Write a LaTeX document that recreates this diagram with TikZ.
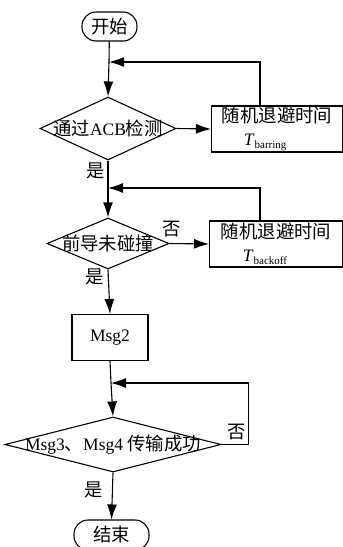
\documentclass[tikz,border=0pt]{standalone}
\usepackage{fontspec}
\setmainfont{Liberation Serif}
\newfontfamily\cjk[Scale=1.05]{Noto Sans CJK SC}
\usetikzlibrary{arrows.meta,shapes.geometric}

\newcommand\Tsub[1]{\textit{T}\raisebox{-0.4ex}{\fontsize{11}{11}\selectfont #1}}

\begin{document}
\begin{tikzpicture}[>={Latex[length=15pt,width=10pt]},x=1pt,y=-1pt,line width=1.1pt,
  font=\fontsize{17.5}{23}\selectfont,
  endbox/.style={draw,rectangle,rounded corners=14pt,minimum height=29pt,inner sep=0pt},
  test/.style={draw,diamond,inner sep=0pt},
  proc/.style={draw,rectangle,inner sep=0pt,minimum height=46pt}]
\useasboundingbox (0,0) rectangle (343,547);

% main column
\node[endbox,minimum width=55pt] (s0) at (109.5,26.5) {\cjk 开始};
\coordinate (j1) at (109,62);
\node[test,minimum width=136pt,minimum height=63pt,label=center:{{\cjk 通过}ACB{\cjk 检测}}] (d1) at (108,128.5) {};
\coordinate (j2) at (108,188);
\node[test,minimum width=122pt,minimum height=51pt,label=center:{\cjk 前导未碰撞}] (d2) at (108,243.5) {};
\node[proc,minimum width=76pt] (m2) at (110,337.5) {Msg2};
\coordinate (j3) at (111,383);
\node[test,minimum width=216pt,minimum height=55pt,label=center:{Msg3{\cjk 、}Msg4 {\cjk 传输成功}}] (d3) at (113,444.5) {};
\node[endbox,minimum width=75pt,minimum height=30pt] (e0) at (111.5,535) {\cjk 结束};

% back-off boxes
\node[proc,minimum width=131pt,align=left] (b1) at (277,129) {{\cjk 随机退避时间}\\\hspace*{22pt}\Tsub{barring}};
\node[proc,minimum width=133pt,align=left] (b2) at (276,244) {{\cjk 随机退避时间}\\\hspace*{22pt}\Tsub{backoff}};

% yes / no
\node (y1) at (96,171) {\cjk 是};
\node (n2) at (172,229) {\cjk 否};
\node (y2) at (95,277) {\cjk 是};
\node (n3) at (237,432) {\cjk 否};
\node (y3) at (94,490) {\cjk 是};

% connectors
\draw (s0) -- (j1);
\draw[->] (j1) -- (d1.north);
\draw[->] (d1.east) -- (b1.west);
\draw[->] ([xshift=-17pt]b1.north) |- (j1);
\draw (d1.south) -- (j2);
\draw[->] (j2) -- (d2.north);
\draw[->] (d2.east) -- (b2.west);
\draw[->] ([xshift=-16pt]b2.north) |- (j2);
\draw[->] (d2.south) -- (m2.north);
\draw (m2.south) -- (j3);
\draw[->] (j3) -- (d3.north);
\draw[->] (d3.east) -- ++(27,0) |- (j3);
\draw[->] (d3.south) -- (e0.north);
\end{tikzpicture}
\end{document}
